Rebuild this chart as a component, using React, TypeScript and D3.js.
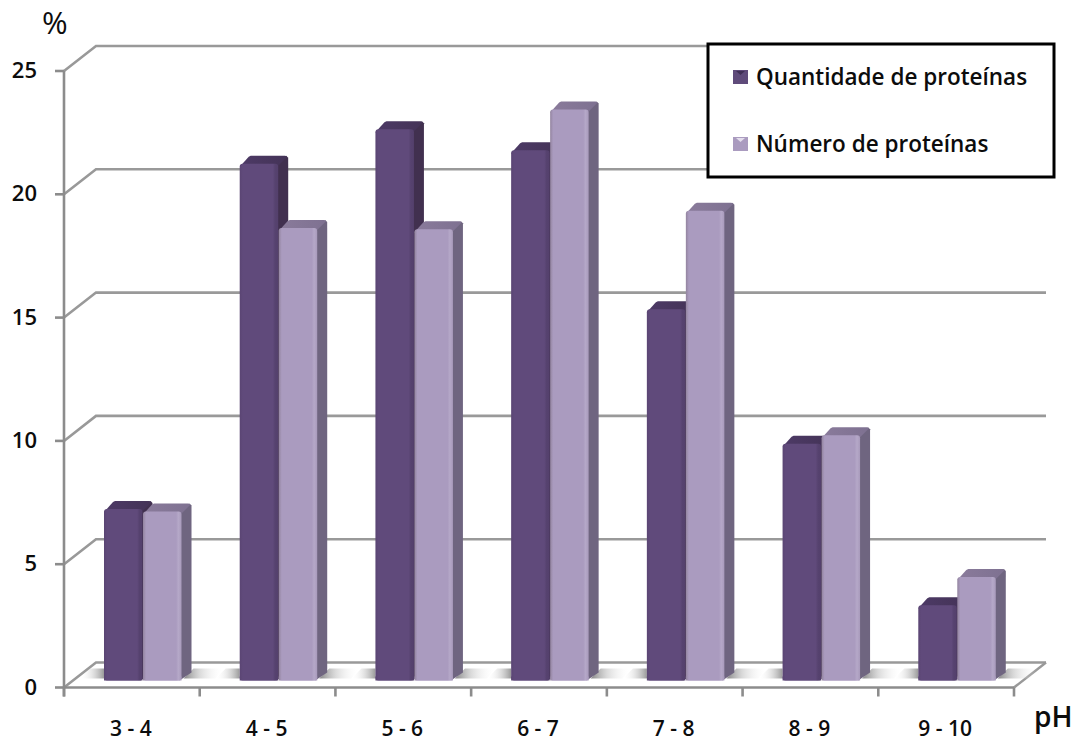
import React from "react";
import * as d3 from "d3";

const categories = ["3 - 4", "4 - 5", "5 - 6", "6 - 7", "7 - 8", "8 - 9", "9 - 10"];
const quantidade = [6.95, 20.95, 22.35, 21.5, 15.05, 9.6, 3.05];
const numero = [6.85, 18.35, 18.3, 23.15, 19.05, 9.95, 4.2];
const yTicks = [0, 5, 10, 15, 20, 25];

const W = 1080;
const H = 742;
const FONT = "'Open Sans', sans-serif";
const AXIS = "#8c8c8c";
const GRID = "#999999";
const INK = "#0c0c0c";
const WALL_DX = 32;
const WALL_DY = -25;
const BAR_DX = 10;
const BAR_DY = -8;
const BASE_LIFT = 7;

const x = d3.scaleBand<string>().domain(categories).range([64, 1014]);
const y = d3.scaleLinear().domain([0, 25]).range([687.5, 71]);
// Bars stand a little behind the front edge of the floor.
const barY = (v: number) => y(v) - BASE_LIFT;
const barW = 38.5;
const barStart = (c: string) => (x(c) as number) + 40;

const polygon = (pts: [number, number][]) => d3.line()(pts) + "Z";

type SeriesStyle = { id: string; topId: string; side: string };
const dark: SeriesStyle = { id: "frontDark", topId: "topDark", side: "#41304f" };
const light: SeriesStyle = { id: "frontLight", topId: "topLight", side: "#6f6580" };

function Bar({ x0, value, s }: { x0: number; value: number; s: SeriesStyle }) {
  const top = barY(value);
  const base = barY(0);
  const x1 = x0 + barW;
  return (
    <g>
      <path
        d={polygon([[x1 - 2, base], [x1 + BAR_DX, base + BAR_DY], [x1 + BAR_DX, top + BAR_DY + 2], [x1 + BAR_DX - 2, top + BAR_DY], [x1 - 2, top]])}
        fill={s.side}
      />
      <path
        d={polygon([[x0, top + 3], [x0 + BAR_DX - 1, top + BAR_DY + 1], [x0 + BAR_DX + 1, top + BAR_DY], [x1 + BAR_DX - 3, top + BAR_DY], [x1 + BAR_DX - 1, top + BAR_DY + 1], [x1, top + 2]])}
        fill={`url(#${s.topId})`}
      />
      <rect x={x0} y={top} width={barW} height={base - top} rx={3} fill={`url(#${s.id})`} />
      <rect x={x0} y={base - 4} width={barW} height={4} fill={`url(#${s.id})`} />
    </g>
  );
}

export default function App() {
  const floorLeft = 64;
  const floorRight = 1014;
  const floorBack = y(0) + WALL_DY;
  const shadeTop = barY(0) - 12;
  const shadeBottom = barY(0) - 2;
  return (
    <svg
      width={W}
      height={H}
      viewBox={`0 0 ${W} ${H}`}
      style={{ position: "absolute", left: 0, top: 0, background: "#fff" }}
      fontFamily={FONT}
    >
      <defs>
        <linearGradient id="frontDark" x1="0" x2="1" y1="0" y2="0">
          <stop offset="0" stopColor="#5a4573" />
          <stop offset="0.08" stopColor="#604a7b" />
          <stop offset="0.86" stopColor="#604a7b" />
          <stop offset="0.92" stopColor="#56426f" />
          <stop offset="1" stopColor="#54406c" />
        </linearGradient>
        <linearGradient id="frontLight" x1="0" x2="1" y1="0" y2="0">
          <stop offset="0" stopColor="#93849f" />
          <stop offset="0.08" stopColor="#aa9bbf" />
          <stop offset="0.86" stopColor="#aa9bbf" />
          <stop offset="0.92" stopColor="#b5a8c8" />
          <stop offset="1" stopColor="#a89abb" />
        </linearGradient>
        <linearGradient id="topDark" x1="0" x2="1" y1="0" y2="0">
          <stop offset="0" stopColor="#4d3a66" />
          <stop offset="1" stopColor="#443357" />
        </linearGradient>
        <linearGradient id="topLight" x1="0" x2="1" y1="0" y2="0">
          <stop offset="0" stopColor="#8a7b9b" />
          <stop offset="1" stopColor="#7e7191" />
        </linearGradient>
        <linearGradient id="floorShade" x1="0" x2="1" y1="0" y2="0">
          <stop offset="0" stopColor="#777" stopOpacity={0.9} />
          <stop offset="0.4" stopColor="#bbb" stopOpacity={0.55} />
          <stop offset="1" stopColor="#fff" stopOpacity={0} />
        </linearGradient>
        <linearGradient id="floorShadeLeft" x1="1" x2="0" y1="0" y2="0">
          <stop offset="0" stopColor="#888" stopOpacity={0.85} />
          <stop offset="1" stopColor="#fff" stopOpacity={0} />
        </linearGradient>
      </defs>

      {/* Back wall gridlines and their returns to the front axis */}
      {yTicks.map((t) => (
        <g key={t} fill="none">
          <path
            d={`M${floorLeft},${y(t)}L${floorLeft + WALL_DX},${y(t) + WALL_DY}L1046,${y(t) + WALL_DY}`}
            stroke={GRID}
            strokeWidth={2.6}
          />
          <line x1={floorLeft - 9} x2={floorLeft} y1={y(t)} y2={y(t)} stroke={AXIS} strokeWidth={2.6} />
        </g>
      ))}

      {/* Floor edge and contact shadows */}
      <line x1={floorRight} y1={y(0)} x2={floorRight + WALL_DX} y2={floorBack} stroke={GRID} strokeWidth={2.4} />
      {categories.map((c) => {
        const right = barStart(c) + 2 * barW + 0.5;
        const left = barStart(c);
        return (
          <g key={c}>
            <path
              d={polygon([[right + 2, shadeBottom], [right + 12, shadeTop], [right + 42, shadeTop], [right + 34, shadeBottom]])}
              fill="url(#floorShade)"
            />
            <path
              d={polygon([[left - 24, shadeBottom], [left - 14, shadeTop], [left, shadeTop], [left, shadeBottom]])}
              fill="url(#floorShadeLeft)"
            />
          </g>
        );
      })}

      {/* Axes */}
      <line x1={floorLeft} x2={floorLeft} y1={y(25)} y2={y(0) + 9} stroke={AXIS} strokeWidth={2.6} />
      <line x1={floorLeft} x2={floorRight} y1={y(0)} y2={y(0)} stroke={AXIS} strokeWidth={2.6} />
      {[...categories.map((c) => x(c) as number), floorRight].map((tx) => (
        <line key={tx} x1={tx} x2={tx} y1={y(0)} y2={y(0) + 9} stroke={AXIS} strokeWidth={2.6} />
      ))}

      {/* Bars */}
      {categories.map((c, i) => (
        <g key={c}>
          <Bar x0={barStart(c)} value={quantidade[i]} s={dark} />
          <Bar x0={barStart(c) + barW + 0.5} value={numero[i]} s={light} />
        </g>
      ))}

      {/* Value labels on the vertical axis */}
      {yTicks.map((t) => (
        <text key={t} x={37} y={y(t) + 7} textAnchor="end" fontSize={22} fontWeight={600} fill={INK}>
          {t}
        </text>
      ))}
      <text x={42} y={34} fontSize={31} fontWeight={400} fill={INK}>%</text>

      {/* Category labels */}
      {categories.map((c) => (
        <text
          key={c}
          x={(x(c) as number) + x.bandwidth() / 2 - 1}
          y={735.5}
          textAnchor="middle"
          fontSize={21}
          fontWeight={600}
          fill={INK}
        >
          {c}
        </text>
      ))}
      <text x={1034} y={727} fontSize={28} fontWeight={600} fill={INK}>pH</text>

      {/* Legend */}
      <rect x={708} y={44} width={346} height={133} fill="#fff" stroke="#000" strokeWidth={3} />
      <rect x={733} y={70} width={15} height={14} fill="#5f4b7a" />
      <path d={polygon([[736, 71], [745, 71], [740.5, 75]])} fill="#3f2f55" />
      <rect x={733} y={137} width={15} height={14} fill="#aa9bbf" />
      <path d={polygon([[736, 138], [745, 138], [740.5, 142]])} fill="#e4deed" />
      <text x={756} y={85} fontSize={22.5} fontWeight={600} fill={INK}>Quantidade de proteínas</text>
      <text x={756} y={152} fontSize={22.5} fontWeight={600} fill={INK}>Número de proteínas</text>
    </svg>
  );
}
